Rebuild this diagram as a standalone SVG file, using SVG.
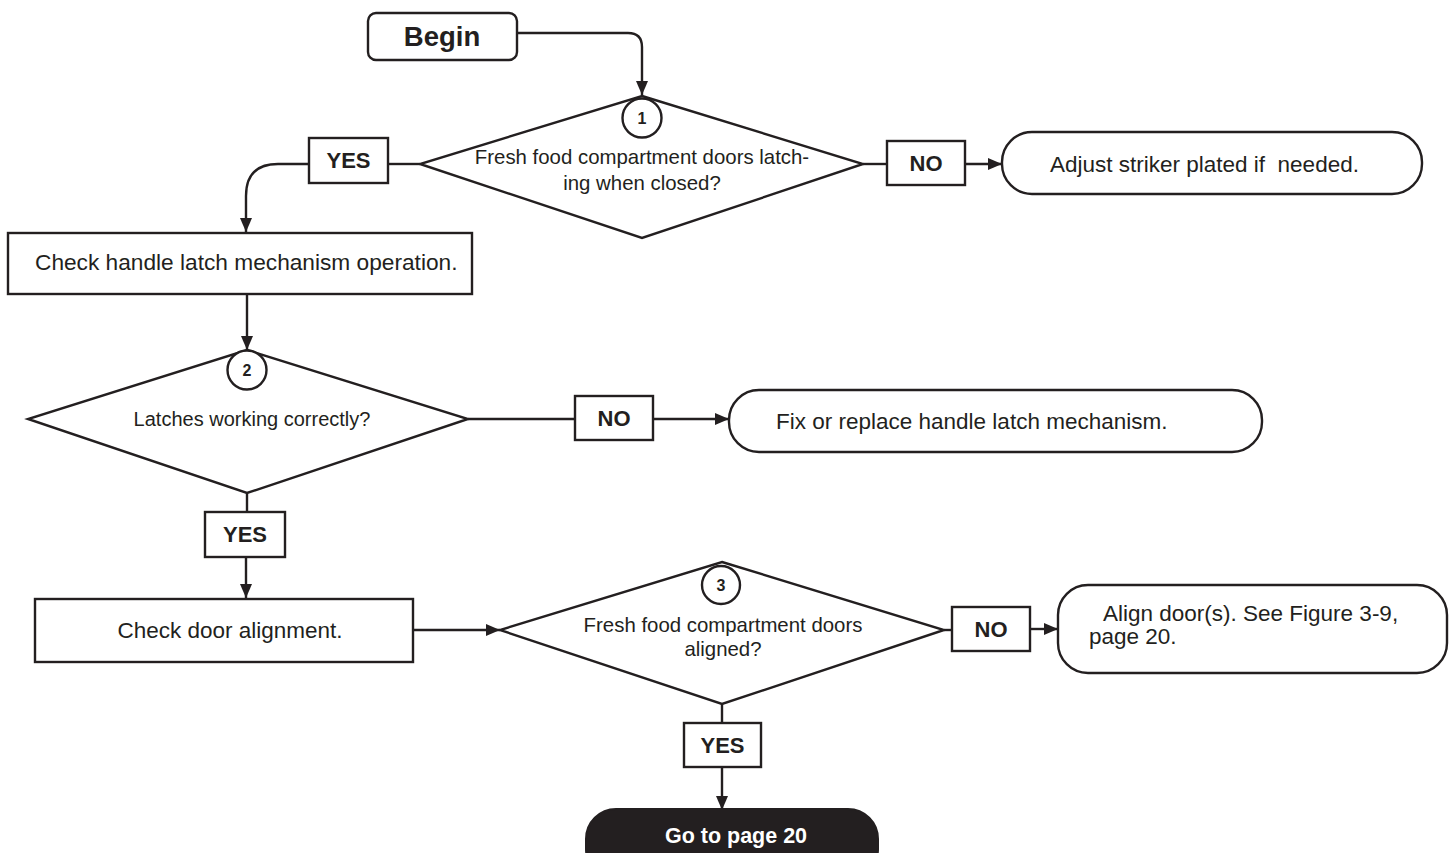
<svg xmlns="http://www.w3.org/2000/svg" width="1454" height="853" viewBox="0 0 1454 853">
<defs>
<marker id="arr" viewBox="0 0 14 12" refX="14" refY="6" markerWidth="14" markerHeight="12" markerUnits="userSpaceOnUse" orient="auto">
<path d="M0,0 L14,6 L0,12 Z" fill="#231f20"/>
</marker>
<style>
.s{fill:#fff;stroke:#231f20;stroke-width:2.4}
.c{fill:none;stroke:#231f20;stroke-width:2.4}
.t{font-family:"Liberation Sans",Arial,sans-serif;fill:#231f20}
.b{font-family:"Liberation Sans",Arial,sans-serif;font-weight:bold;fill:#231f20}
</style>
</defs>
<rect width="1454" height="853" fill="#fff"/>
<g id="connectors">
<path class="c" d="M517,33 H628 Q642,33 642,47 V95" marker-end="url(#arr)"/>
<path class="c" d="M420,164 H388"/>
<path class="c" d="M309,164 H278 Q246,164 246,196 V232" marker-end="url(#arr)"/>
<path class="c" d="M863,164 H887"/>
<path class="c" d="M965,164 H1002" marker-end="url(#arr)"/>
<path class="c" d="M247,294 V350" marker-end="url(#arr)"/>
<path class="c" d="M468,419 H575"/>
<path class="c" d="M653,419 H729" marker-end="url(#arr)"/>
<path class="c" d="M247,493 V512"/>
<path class="c" d="M246,557 V598" marker-end="url(#arr)"/>
<path class="c" d="M413,630 H500" marker-end="url(#arr)"/>
<path class="c" d="M944,630 H952"/>
<path class="c" d="M1030,629 H1058" marker-end="url(#arr)"/>
<path class="c" d="M722,704 V723"/>
<path class="c" d="M722,767 V810" marker-end="url(#arr)"/>
</g>
<g id="begin">
<rect class="s" x="368" y="13" width="149" height="47" rx="8"/>
<text class="b" x="442" y="46" font-size="27.5" text-anchor="middle">Begin</text>
</g>
<g id="q1">
<polygon class="s" points="642,96 863,164 642,238 420,164"/>
<circle class="s" cx="642" cy="118" r="19.5"/>
<text class="b" x="642" y="124" font-size="16" text-anchor="middle">1</text>
<text class="t" x="642" y="164" font-size="20.4" text-anchor="middle">Fresh food compartment doors latch-</text>
<text class="t" x="642" y="190" font-size="20.4" text-anchor="middle">ing when closed?</text>
</g>
<g id="yes1">
<rect class="s" x="309" y="138" width="79" height="45"/>
<text class="b" x="348.5" y="168" font-size="22" text-anchor="middle">YES</text>
</g>
<g id="no1">
<rect class="s" x="887" y="141" width="78" height="44"/>
<text class="b" x="926" y="171" font-size="22" text-anchor="middle">NO</text>
</g>
<g id="adjust">
<rect class="s" x="1002" y="132" width="420" height="62" rx="30"/>
<text class="t" x="1050" y="172" font-size="22.5" xml:space="preserve">Adjust striker plated if  needed.</text>
</g>
<g id="checkhandle">
<rect class="s" x="8" y="233" width="464" height="61"/>
<text class="t" x="35" y="270" font-size="22.7">Check handle latch mechanism operation.</text>
</g>
<g id="q2">
<polygon class="s" points="247,350 468,419 247,493 28,419"/>
<circle class="s" cx="247" cy="370" r="19.5"/>
<text class="b" x="247" y="376" font-size="16" text-anchor="middle">2</text>
<text class="t" x="252" y="426" font-size="20" text-anchor="middle">Latches working correctly?</text>
</g>
<g id="no2">
<rect class="s" x="575" y="396" width="78" height="44"/>
<text class="b" x="614" y="426" font-size="22" text-anchor="middle">NO</text>
</g>
<g id="fix">
<rect class="s" x="729" y="390" width="533" height="62" rx="30"/>
<text class="t" x="776" y="429" font-size="22.5">Fix or replace handle latch mechanism.</text>
</g>
<g id="yes2">
<rect class="s" x="205" y="512" width="80" height="45"/>
<text class="b" x="245" y="542" font-size="22" text-anchor="middle">YES</text>
</g>
<g id="checkdoor">
<rect class="s" x="35" y="599" width="378" height="63"/>
<text class="t" x="230" y="638" font-size="22.5" text-anchor="middle">Check door alignment.</text>
</g>
<g id="q3">
<polygon class="s" points="722,562 944,630 722,704 500,630"/>
<circle class="s" cx="721" cy="585" r="19"/>
<text class="b" x="721" y="591" font-size="16" text-anchor="middle">3</text>
<text class="t" x="723" y="632" font-size="20.4" text-anchor="middle">Fresh food compartment doors</text>
<text class="t" x="723" y="656" font-size="20.4" text-anchor="middle">aligned?</text>
</g>
<g id="no3">
<rect class="s" x="952" y="607" width="78" height="44"/>
<text class="b" x="991" y="637" font-size="22" text-anchor="middle">NO</text>
</g>
<g id="align">
<rect class="s" x="1058" y="585" width="389" height="88" rx="30"/>
<text class="t" x="1103" y="621" font-size="22.5">Align door(s). See Figure 3-9,</text>
<text class="t" x="1089" y="644" font-size="22.5">page 20.</text>
</g>
<g id="yes3">
<rect class="s" x="684" y="723" width="77" height="44"/>
<text class="b" x="722.5" y="753" font-size="22" text-anchor="middle">YES</text>
</g>
<g id="goto">
<rect x="586" y="809" width="292" height="70" rx="30" fill="#231f20" stroke="#231f20" stroke-width="2"/>
<text class="b" x="736" y="843" font-size="21.5" text-anchor="middle" style="fill:#fff">Go to page 20</text>
</g>
</svg>
